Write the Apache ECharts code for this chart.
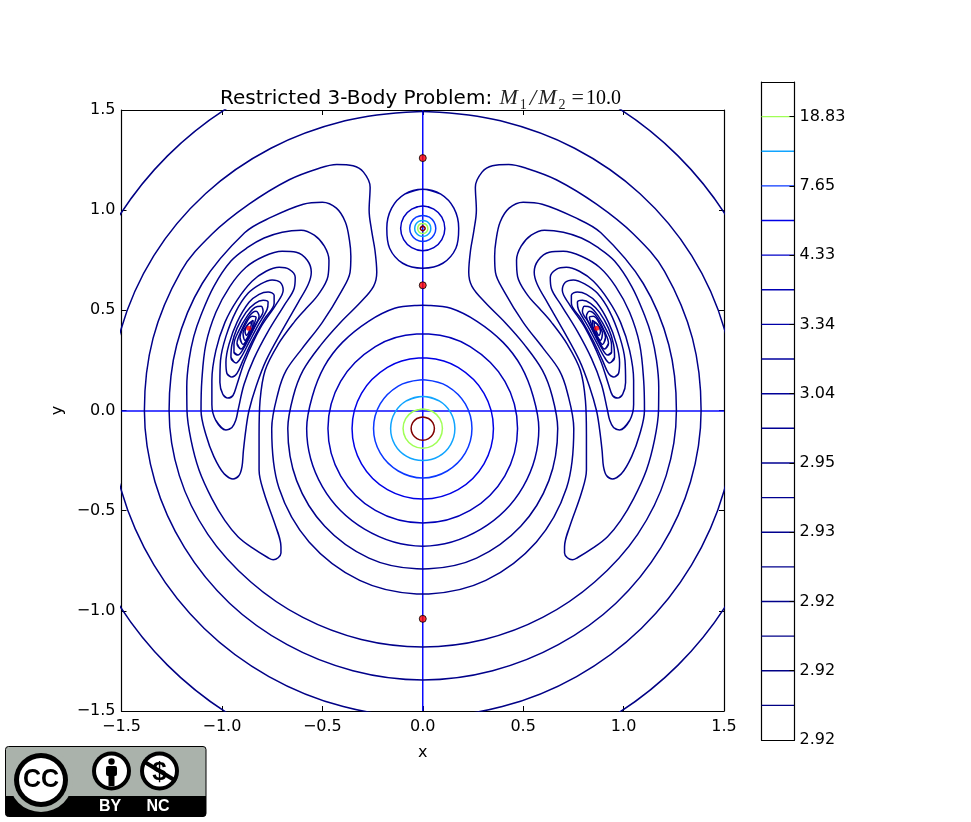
<!DOCTYPE html>
<html><head><meta charset="utf-8">
<style>html,body{margin:0;padding:0;background:#fff}#c{width:971px;height:822px}</style>
<script src="https://cdn.jsdelivr.net/npm/echarts@6/dist/echarts.min.js"></script>
</head><body><div id="c"></div>
<script>
const ringM1a=[[0,-.032],[.029,-.04],[.05,-.061],[.058,-.09],[.05,-.119],[.029,-.14],[0,-.148],[-.029,-.14],[-.05,-.119],[-.058,-.09],[-.05,-.061],[-.029,-.04],[0,-.032]];
const ringM1b=[[0,.008],[.049,-.005],[.085,-.041],[.098,-.09],[.085,-.139],[.049,-.175],[0,-.188],[-.049,-.175],[-.085,-.139],[-.098,-.09],[-.085,-.041],[-.049,-.005],[0,.008]];
const ringM1c=[[0,.07],[.08,.049],[.139,-.01],[.16,-.09],[.139,-.17],[.08,-.229],[0,-.25],[-.08,-.229],[-.139,-.17],[-.16,-.09],[-.139,-.01],[-.08,.049],[0,.07]];
const ringM1d=[[0,.153],[.015,.1525],[.122,.122],[.212,.033],[.245,-.09],[.212,-.212],[.122,-.302],[0,-.337],[-.122,-.302],[-.212,-.212],[-.245,-.09],[-.212,.033],[-.122,.122],[-.015,.1525],[0,.153]];
const ringM1e=[[0,.262],[.02,.2615],[.176,.215],[.305,.086],[.352,-.09],[.305,-.266],[.176,-.395],[0,-.442],[-.176,-.395],[-.305,-.266],[-.352,-.09],[-.305,.086],[-.176,.215],[-.02,.2615],[0,.262]];
const ringM1f=[[0,.382],[.03,.3815],[.236,.319],[.409,.146],[.472,-.09],[.409,-.326],[.236,-.499],[0,-.562],[-.236,-.499],[-.409,-.326],[-.472,-.09],[-.409,.146],[-.236,.319],[-.03,.3815],[0,.382]];
const ringM1g=[[0,.525],[.03,.5245],[.14,.51],[.27,.445],[.4,.34],[.49,.22],[.55,.07],[.578,-.09],[.5,-.38],[.29,-.592],[0,-.677],[-.29,-.592],[-.5,-.38],[-.578,-.09],[-.55,.07],[-.49,.22],[-.4,.34],[-.27,.445],[-.14,.51],[-.03,.5245],[0,.525]];

const shoeInner=[[0,-.791],[-.03,-.7905],[-.268,-.737],[-.488,-.578],[-.628,-.35],[-.672,-.09],[-.645,.07],[-.596,.2],[-.505,.33],[-.412,.437],[-.31,.54],[-.245,.62],[-.229,.69],[-.238,.8],[-.255,.9],[-.267,1.0],[-.262,1.115],[-.295,1.19],[-.347,1.222],[-.428,1.228],[-.514,1.21],[-.665,1.152],[-.865,1.03],[-1.049,.881],[-1.204,.695],[-1.343,.36],[-1.386,0],[-1.333,-.357],[-1.186,-.685],[-.962,-.962],[-.675,-1.169],[-.348,-1.299],[0,-1.345],[.348,-1.299],[.675,-1.169],[.962,-.962],[1.186,-.685],[1.333,-.357],[1.386,0],[1.343,.36],[1.204,.695],[1.049,.881],[.865,1.03],[.665,1.152],[.514,1.21],[.428,1.228],[.347,1.222],[.295,1.19],[.262,1.115],[.267,1.0],[.255,.9],[.238,.8],[.229,.69],[.245,.62],[.31,.54],[.412,.437],[.505,.33],[.596,.2],[.645,.07],[.672,-.09],[.628,-.35],[.488,-.578],[.268,-.737],[.03,-.7905],[0,-.791]];
const shoeOuter=[[0,-.916],[-.03,-.9155],[-.314,-.848],[-.566,-.656],[-.716,-.387],[-.752,-.09],[-.72,.09],[-.68,.2],[-.6,.31],[-.5,.44],[-.405,.595],[-.362,.69],[-.358,.77],[-.365,.85],[-.385,.94],[-.43,1.01],[-.5,1.04],[-.595,1.03],[-.754,.965],[-.887,.887],[-1.098,.634],[-1.225,.328],[-1.263,0],[-1.212,-.325],[-1.07,-.618],[-.856,-.856],[-.597,-1.033],[-.306,-1.143],[0,-1.18],[.306,-1.143],[.597,-1.033],[.856,-.856],[1.07,-.618],[1.212,-.325],[1.263,0],[1.225,.328],[1.098,.634],[.887,.887],[.754,.965],[.595,1.03],[.5,1.04],[.43,1.01],[.385,.94],[.365,.85],[.358,.77],[.362,.69],[.405,.595],[.5,.44],[.6,.31],[.68,.2],[.72,.09],[.752,-.09],[.716,-.387],[.566,-.656],[.314,-.848],[.03,-.9155],[0,-.916]];

const outerB=[[0,1.492],[-.03,1.4915],[-.387,1.446],[-.756,1.309],[-1.082,1.082],[-1.339,.773],[-1.503,.403],[-1.56,0],[-1.5,-.402],[-1.338,-.772],[-1.088,-1.088],[-.766,-1.328],[-.396,-1.478],[0,-1.53],[.396,-1.478],[.766,-1.328],[1.088,-1.088],[1.338,-.772],[1.5,-.402],[1.56,0],[1.503,.403],[1.339,.773],[1.082,1.082],[.756,1.309],[.387,1.446],[.03,1.4915],[0,1.492]];
const outerA=[[0,1.797],[-.465,1.736],[-.898,1.556],[-1.271,1.271],[-1.556,.898],[-1.736,.465],[-1.797,0],[-1.736,-.465],[-1.556,-.898],[-1.271,-1.271],[-.898,-1.556],[-.465,-1.736],[0,-1.797],[.465,-1.736],[.898,-1.556],[1.271,-1.271],[1.556,-.898],[1.736,-.465],[1.797,0],[1.736,.465],[1.556,.898],[1.271,1.271],[.898,1.556],[.465,1.736],[0,1.797]];

const lobeLe=[[-.706,-.681],[-.706,-.711],[-.72,-.735],[-.745,-.745],[-.77,-.735],[-.85,-.685],[-.92,-.63],[-.985,-.55],[-1.05,-.44],[-1.114,-.297],[-1.154,-.147],[-1.174,0],[-1.175,.12],[-1.164,.25],[-1.14,.37],[-1.104,.477],[-1.04,.62],[-.955,.746],[-.87,.815],[-.79,.861],[-.7,.89],[-.606,.9],[-.54,.875],[-.49,.82],[-.467,.75],[-.472,.67],[-.521,.577],[-.58,.51],[-.641,.44],[-.72,.33],[-.785,.2],[-.81,.05],[-.815,-.12],[-.815,-.297],[-.79,-.412],[-.731,-.582],[-.706,-.681]];
const lobeLf=[[-.945,-.342],[-.915,-.325],[-.9,-.28],[-.893,-.2],[-.88,-.09],[-.865,0],[-.83,.12],[-.78,.25],[-.7,.4],[-.62,.54],[-.57,.63],[-.555,.69],[-.575,.75],[-.63,.79],[-.7,.795],[-.79,.77],[-.88,.715],[-.96,.62],[-1.03,.49],[-1.08,.33],[-1.1,.15],[-1.104,0],[-1.08,-.12],[-1.04,-.23],[-.99,-.315],[-.945,-.342]];
const lobeLg=[[-.98,-.097],[-.95,-.085],[-.93,-.045],[-.92,0],[-.89,.13],[-.84,.26],[-.77,.395],[-.69,.525],[-.64,.61],[-.635,.665],[-.665,.705],[-.715,.715],[-.78,.695],[-.85,.645],[-.925,.55],[-.985,.44],[-1.03,.3],[-1.05,.15],[-1.05,.03],[-1.03,-.05],[-.98,-.097]];
const lobeLh=[[-.97,.062],[-.945,.075],[-.925,.13],[-.885,.25],[-.81,.41],[-.73,.53],[-.695,.6],[-.71,.64],[-.75,.652],[-.81,.63],[-.87,.585],[-.93,.495],[-.98,.37],[-1.007,.25],[-1.01,.14],[-.995,.08],[-.97,.062]];
const lobeLi=[[-.95,.167],[-.925,.185],[-.895,.25],[-.85,.345],[-.79,.455],[-.74,.535],[-.74,.575],[-.77,.592],[-.815,.58],[-.865,.54],[-.925,.44],[-.965,.33],[-.98,.24],[-.975,.185],[-.95,.167]];
const lobeLj=[[-.93,.237],[-.905,.265],[-.865,.34],[-.82,.425],[-.775,.505],[-.77,.54],[-.795,.55],[-.835,.535],[-.88,.49],[-.925,.41],[-.95,.33],[-.955,.265],[-.93,.237]];
const lobeLk=[[-.92,.277],[-.895,.305],[-.86,.37],[-.825,.44],[-.795,.495],[-.805,.52],[-.835,.515],[-.875,.47],[-.915,.4],[-.94,.33],[-.94,.29],[-.92,.277]];
const lobeLl=[[-.905,.307],[-.875,.35],[-.84,.415],[-.815,.47],[-.83,.495],[-.865,.47],[-.905,.395],[-.925,.335],[-.905,.307]];
const lobeLm=[[-.895,.33],[-.865,.375],[-.84,.43],[-.83,.465],[-.85,.47],[-.885,.425],[-.91,.365],[-.895,.33]];
const lobeLn=[[-.885,.35],[-.86,.39],[-.845,.43],[-.845,.45],[-.87,.43],[-.895,.385],[-.885,.35]];
const lobeLo=[[-.878,.375],[-.86,.405],[-.852,.44],[-.87,.43],[-.885,.395],[-.878,.375]];

const lobeRe=[[.706,-.681],[.706,-.711],[.72,-.735],[.745,-.745],[.77,-.735],[.85,-.685],[.92,-.63],[.985,-.55],[1.05,-.44],[1.114,-.297],[1.154,-.147],[1.174,0],[1.175,.12],[1.164,.25],[1.14,.37],[1.104,.477],[1.04,.62],[.955,.746],[.87,.815],[.79,.861],[.7,.89],[.606,.9],[.54,.875],[.49,.82],[.467,.75],[.472,.67],[.521,.577],[.58,.51],[.641,.44],[.72,.33],[.785,.2],[.81,.05],[.815,-.12],[.815,-.297],[.79,-.412],[.731,-.582],[.706,-.681]];
const lobeRf=[[.945,-.342],[.915,-.325],[.9,-.28],[.893,-.2],[.88,-.09],[.865,0],[.83,.12],[.78,.25],[.7,.4],[.62,.54],[.57,.63],[.555,.69],[.575,.75],[.63,.79],[.7,.795],[.79,.77],[.88,.715],[.96,.62],[1.03,.49],[1.08,.33],[1.1,.15],[1.104,0],[1.08,-.12],[1.04,-.23],[.99,-.315],[.945,-.342]];
const lobeRg=[[.98,-.097],[.95,-.085],[.93,-.045],[.92,0],[.89,.13],[.84,.26],[.77,.395],[.69,.525],[.64,.61],[.635,.665],[.665,.705],[.715,.715],[.78,.695],[.85,.645],[.925,.55],[.985,.44],[1.03,.3],[1.05,.15],[1.05,.03],[1.03,-.05],[.98,-.097]];
const lobeRh=[[.97,.062],[.945,.075],[.925,.13],[.885,.25],[.81,.41],[.73,.53],[.695,.6],[.71,.64],[.75,.652],[.81,.63],[.87,.585],[.93,.495],[.98,.37],[1.007,.25],[1.01,.14],[.995,.08],[.97,.062]];
const lobeRi=[[.95,.167],[.925,.185],[.895,.25],[.85,.345],[.79,.455],[.74,.535],[.74,.575],[.77,.592],[.815,.58],[.865,.54],[.925,.44],[.965,.33],[.98,.24],[.975,.185],[.95,.167]];
const lobeRj=[[.93,.237],[.905,.265],[.865,.34],[.82,.425],[.775,.505],[.77,.54],[.795,.55],[.835,.535],[.88,.49],[.925,.41],[.95,.33],[.955,.265],[.93,.237]];
const lobeRk=[[.92,.277],[.895,.305],[.86,.37],[.825,.44],[.795,.495],[.805,.52],[.835,.515],[.875,.47],[.915,.4],[.94,.33],[.94,.29],[.92,.277]];
const lobeRl=[[.905,.307],[.875,.35],[.84,.415],[.815,.47],[.83,.495],[.865,.47],[.905,.395],[.925,.335],[.905,.307]];
const lobeRm=[[.895,.33],[.865,.375],[.84,.43],[.83,.465],[.85,.47],[.885,.425],[.91,.365],[.895,.33]];
const lobeRn=[[.885,.35],[.86,.39],[.845,.43],[.845,.45],[.87,.43],[.895,.385],[.885,.35]];
const lobeRo=[[.878,.375],[.86,.405],[.852,.44],[.87,.43],[.885,.395],[.878,.375]];

const ringM2a=[[0,1.104],[.09,1.08],[.155,1.01],[.179,.91],[.165,.81],[.1,.735],[0,.71],[-.1,.735],[-.165,.81],[-.179,.91],[-.155,1.01],[-.09,1.08],[0,1.104]];
const ringM2b=[[0,1.021],[.055,1.005],[.095,.965],[.11,.909],[.095,.853],[.055,.813],[0,.798],[-.055,.813],[-.095,.853],[-.11,.909],[-.095,.965],[-.055,1.005],[0,1.021]];
const ringM2c=[[0,.974],[.033,.965],[.056,.941],[.065,.909],[.056,.877],[.033,.853],[0,.844],[-.033,.853],[-.056,.877],[-.065,.909],[-.056,.941],[-.033,.965],[0,.974]];
const ringM2d=[[0,.949],[.02,.944],[.035,.929],[.04,.909],[.035,.889],[.02,.874],[0,.869],[-.02,.874],[-.035,.889],[-.04,.909],[-.035,.929],[-.02,.944],[0,.949]];
const ringM2e=[[0,.934],[.013,.931],[.022,.922],[.025,.909],[.022,.896],[.013,.887],[0,.884],[-.013,.887],[-.022,.896],[-.025,.909],[-.022,.922],[-.013,.931],[0,.934]];
const ringM2f=[[0,.921],[.012,.909],[0,.897],[-.012,.909],[0,.921]];

const axisLineH=[[-1.5,-.002],[1.5,-.002]];
const axisLineV=[[0,-1.5],[0,1.5]];
const lagrangeX=[0,0,0,-.866,.866];
const lagrangeY=[1.26,.625,-1.04,.41,.41];

const barLevels=[1,2,3,4,5,6,7,8,9,10,11,12,13,14,15,16,17,18];
const barColors=['#000084','#000086','#000088','#00008a','#00008c','#00008e','#000090','#000092','#000094','#000098','#00009e','#0000a8','#0000b4','#0000c8','#0000e6','#0a38ff','#10a4ff','#a0ff56'];
const barTicks=['2.92','2.92','2.92','2.93','2.95','3.04','3.34','4.33','7.65','18.83'];
const titleMain='Restricted 3-Body Problem: ';

const navy='#00008a';
const loop=p=>[p[p.length-2],...p,p[1]];
const closedContours=[
 [outerA,'#000084'],[outerB,'#000086'],[shoeInner,navy],[shoeOuter,navy],
 [lobeLe,navy],[lobeLf,navy],[lobeLg,navy],[lobeLh,navy],[lobeLi,navy],[lobeLj,navy],[lobeLk,navy],[lobeLl,navy],[lobeLm,navy],[lobeLn,navy],[lobeLo,navy],
 [lobeRe,navy],[lobeRf,navy],[lobeRg,navy],[lobeRh,navy],[lobeRi,navy],[lobeRj,navy],[lobeRk,navy],[lobeRl,navy],[lobeRm,navy],[lobeRn,navy],[lobeRo,navy],
 [ringM1g,'#00009c'],[ringM1f,'#0000b8'],[ringM1e,'#0000e6'],[ringM1d,'#0a38ff'],[ringM1c,'#10a4ff'],[ringM1b,'#a0ff56'],[ringM1a,'#800000'],
 [ringM2a,'#00009c'],[ringM2b,'#0000c0'],[ringM2c,'#0a38ff'],[ringM2d,'#10a4ff'],[ringM2e,'#a0ff56'],[ringM2f,'#800000']
];

const font='DejaVu Sans';
const lineBase={type:'line',xAxisIndex:0,yAxisIndex:0,showSymbol:false,symbol:'none',clip:true,silent:true};
const series=[
 {...lineBase,data:axisLineH,lineStyle:{color:'#0a0aff',width:1.5}},
 {...lineBase,data:axisLineV,lineStyle:{color:'#0a0aff',width:1.5}},
 ...closedContours.map(([pts,col])=>({...lineBase,data:loop(pts),smooth:.35,lineStyle:{color:col,width:1.5}}))
];
series.push({type:'scatter',xAxisIndex:0,yAxisIndex:0,symbol:'circle',symbolSize:7,silent:true,z:6,
  data:lagrangeX.slice(0,3).map((x,i)=>[x,lagrangeY[i]]),itemStyle:{color:'#ff0000',borderColor:'#000',borderWidth:1}});
series.push({type:'scatter',xAxisIndex:0,yAxisIndex:0,symbol:'circle',symbolSize:5,silent:true,z:6,
  data:lagrangeX.slice(3).map((x,i)=>[x,lagrangeY[i+3]]),itemStyle:{color:'#ff0000'}});
barLevels.forEach((lv,i)=>series.push({type:'line',xAxisIndex:2,yAxisIndex:2,data:[[0,lv],[1,lv]],showSymbol:false,symbol:'none',silent:true,clip:false,
  lineStyle:{color:barColors[i],width:1.4}}));

const baseX={type:'value',min:-1.5,max:1.5,interval:.5,gridIndex:0,splitLine:{show:false}};
const axLine={show:true,onZero:false,lineStyle:{color:'#000',width:1.2}};
const tick={show:true,inside:true,length:5,lineStyle:{color:'#000',width:1}};
const fmt=v=>v.toFixed(1).replace('-','\u2212');
const serif='Liberation Serif';

const option={
 animation:false,backgroundColor:'#fff',
 title:{left:220,top:85,padding:0,text:'{t|'+titleMain+'}{m|M}{s|1}{o|/}{p|M}{s|2}{e|=}{n|10.0}',
   textStyle:{fontWeight:'normal',rich:{
     t:{fontFamily:font,fontWeight:'normal',fontSize:20,color:'#000',lineHeight:24,padding:[0,1,0,0]},
     m:{fontFamily:serif,fontWeight:'normal',fontStyle:'italic',fontSize:22,color:'#222',lineHeight:24},
     p:{fontFamily:serif,fontWeight:'normal',fontStyle:'italic',fontSize:22,color:'#222',lineHeight:24,padding:[0,0,0,2]},
     o:{fontFamily:serif,fontWeight:'normal',fontStyle:'italic',fontSize:23,color:'#222',lineHeight:24,padding:[0,0,0,3]},
     s:{fontFamily:serif,fontWeight:'normal',fontSize:14,color:'#222',padding:[13,0,0,2]},
     e:{fontFamily:serif,fontWeight:'normal',fontSize:22,color:'#222',lineHeight:24,padding:[0,2,0,6]},
     n:{fontFamily:serif,fontWeight:'normal',fontSize:20,color:'#000',lineHeight:24}}}},
 grid:[{left:121.5,top:110,width:602.5,height:601},{left:121.5,top:110,width:602.5,height:601},{left:761.5,top:82,width:33,height:658}],
 xAxis:[
  {...baseX,position:'bottom',axisLine:axLine,axisTick:tick,axisLabel:{color:'#000',fontFamily:font,fontSize:16,margin:8,formatter:fmt,showMinLabel:true,showMaxLabel:true},
    name:'x',nameLocation:'middle',nameGap:34,nameTextStyle:{color:'#000',fontFamily:font,fontSize:16}},
  {...baseX,position:'top',gridIndex:1,axisLine:axLine,axisTick:tick,axisLabel:{show:false}},
  {type:'value',min:0,max:1,gridIndex:2,position:'bottom',axisLine:axLine,axisTick:{show:false},axisLabel:{show:false},splitLine:{show:false}},
  {type:'value',min:0,max:1,gridIndex:2,position:'top',axisLine:axLine,axisTick:{show:false},axisLabel:{show:false},splitLine:{show:false}}
 ],
 yAxis:[
  {type:'value',min:-1.5,max:1.5,interval:.5,gridIndex:0,position:'left',splitLine:{show:false},axisLine:axLine,axisTick:tick,
    axisLabel:{color:'#000',fontFamily:font,fontSize:16,margin:6,formatter:fmt,showMinLabel:true,showMaxLabel:true},
    name:'y',nameLocation:'middle',nameGap:48,nameRotate:90,nameTextStyle:{color:'#000',fontFamily:font,fontSize:16}},
  {type:'value',min:-1.5,max:1.5,interval:.5,gridIndex:1,position:'right',splitLine:{show:false},axisLine:axLine,axisTick:tick,axisLabel:{show:false}},
  {type:'value',min:0,max:19,interval:2,gridIndex:2,position:'right',z:5,splitLine:{show:false},axisLine:axLine,axisTick:{show:true,inside:true,length:5,lineStyle:{color:'#000',width:1}},
    axisLabel:{color:'#000',fontFamily:font,fontSize:16,margin:5,showMaxLabel:false,formatter:v=>barTicks[v/2]}},
  {type:'value',min:0,max:19,interval:19,gridIndex:2,position:'left',splitLine:{show:false},axisLine:axLine,axisTick:{show:false},axisLabel:{show:false}}
 ],
 series,
 graphic:{elements:[
  {type:'rect',silent:true,shape:{x:5.5,y:746.5,width:200.5,height:70,r:3},style:{fill:'#aab2ab',stroke:'#000',lineWidth:1}},
  {type:'rect',silent:true,shape:{x:5.5,y:796,width:200.5,height:20.5,r:[0,0,3,3]},style:{fill:'#000'}},
  {type:'circle',silent:true,shape:{cx:41,cy:780,r:32},style:{fill:'#aab2ab'}},
  {type:'circle',silent:true,shape:{cx:41,cy:780,r:27},style:{fill:'#000'}},
  {type:'circle',silent:true,shape:{cx:41,cy:780,r:22},style:{fill:'#fff'}},
  {type:'text',silent:true,style:{x:41,y:780,text:'CC',fill:'#000',font:'bold 25px "Liberation Sans"',align:'center',verticalAlign:'middle'}},
  {type:'circle',silent:true,shape:{cx:111.5,cy:771,r:19.5},style:{fill:'#000'}},
  {type:'circle',silent:true,shape:{cx:111.5,cy:771,r:15.5},style:{fill:'#fff'}},
  {type:'circle',silent:true,shape:{cx:111.5,cy:761.5,r:3.2},style:{fill:'#000'}},
  {type:'rect',silent:true,shape:{x:106,y:766,width:11,height:10,r:2},style:{fill:'#000'}},
  {type:'rect',silent:true,shape:{x:108.5,y:775,width:6,height:11},style:{fill:'#000'}},
  {type:'circle',silent:true,shape:{cx:159.5,cy:771,r:19.5},style:{fill:'#000'}},
  {type:'circle',silent:true,shape:{cx:159.5,cy:771,r:15.5},style:{fill:'#fff'}},
  {type:'text',silent:true,style:{x:159.5,y:773,text:'$',fill:'#000',font:'bold 26px "Liberation Sans"',align:'center',verticalAlign:'middle'}},
  {type:'line',silent:true,shape:{x1:143,y1:761,x2:176,y2:781},style:{stroke:'#000',lineWidth:4}},
  {type:'text',silent:true,style:{x:110,y:807,text:'BY',fill:'#fff',font:'bold 16px "Liberation Sans"',align:'center',verticalAlign:'middle'}},
  {type:'text',silent:true,style:{x:158,y:807,text:'NC',fill:'#fff',font:'bold 16px "Liberation Sans"',align:'center',verticalAlign:'middle'}}
 ]}
};
echarts.init(document.getElementById('c'),null,{renderer:'canvas'}).setOption(option);
</script></body></html>
